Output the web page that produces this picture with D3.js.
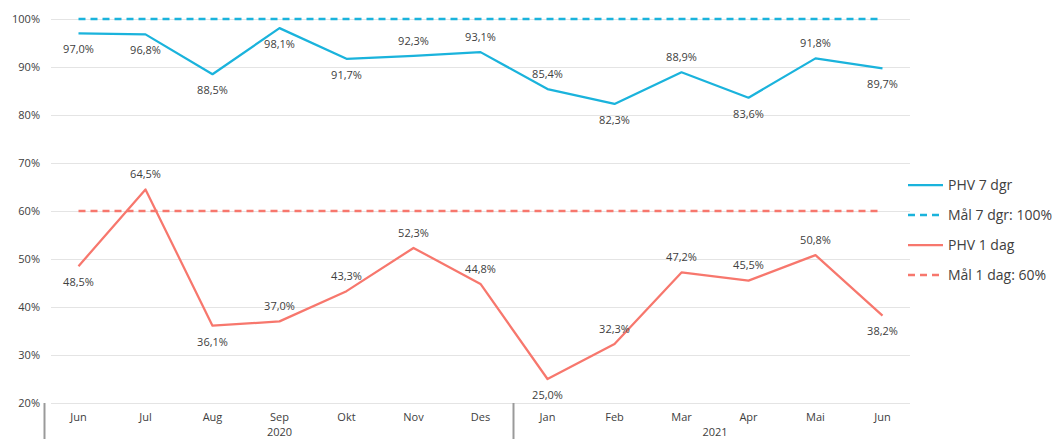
<!DOCTYPE html>
<html>
<head>
<meta charset="utf-8">
<script src="https://cdn.jsdelivr.net/npm/d3@7"></script>
<style>
	body { margin: 0; background: #fff; }
	svg { display: block; font-family: "Open Sans", "Liberation Sans", sans-serif; }
	.grid line { stroke: #e4e4e4; stroke-width: 1; }
	.lbl { font-size: 11px; fill: #404040; }
	.tick { font-size: 11px; fill: #404040; }
	.legend text { font-size: 14px; fill: #404040; }
</style>
</head>
<body>
<div class="chart"></div>
<script>
const months = ["Jun", "Jul", "Aug", "Sep", "Okt", "Nov", "Des", "Jan", "Feb", "Mar", "Apr", "Mai", "Jun"];
const years = [{ label: "2020", from: 0, to: 7 }, { label: "2021", from: 7, to: 13 }];
const phv7 = [97.0, 96.8, 88.5, 98.1, 91.7, 92.3, 93.1, 85.4, 82.3, 88.9, 83.6, 91.8, 89.7];
const phv1 = [48.5, 64.5, 36.1, 37.0, 43.3, 52.3, 44.8, 25.0, 32.3, 47.2, 45.5, 50.8, 38.2];
const goal7 = 100;
const goal1 = 60;
// label position per point: "a" above, "b" below
const pos7 = ["b", "b", "b", "b", "b", "a", "a", "a", "b", "a", "b", "a", "b"];
const pos1 = ["b", "a", "b", "a", "a", "a", "a", "b", "a", "a", "a", "a", "b"];
const yTicks = [20, 30, 40, 50, 60, 70, 80, 90, 100];

const blue = "#1ab3dc";
const red = "#f7776d";

const width = 1055, height = 439;
const svg = d3.select(".chart").append("svg")
	.attr("width", width)
	.attr("height", height);

const x = d3.scaleBand()
	.domain(d3.range(months.length))
	.range([45, 916]);
const y = d3.scaleLinear()
	.domain([20, 100])
	.range([403, 19]);
const cx = (i) => x(i) + x.bandwidth() / 2;
const fmt = (v) => v.toFixed(1).replace(".", ",") + "%";

// gridlines
svg.append("g")
	.attr("class", "grid")
	.selectAll("line")
	.data(yTicks)
	.enter()
	.append("line")
		.attr("x1", 51)
		.attr("x2", 910)
		.attr("y1", (d) => y(d) + 0.5)
		.attr("y2", (d) => y(d) + 0.5);

// y tick labels
svg.append("g")
	.selectAll("text")
	.data(yTicks)
	.enter()
	.append("text")
		.attr("class", "tick")
		.attr("x", 40)
		.attr("y", (d) => y(d))
		.attr("dy", "0.35em")
		.attr("text-anchor", "end")
		.text((d) => d + "%");

// month labels
svg.append("g")
	.selectAll("text")
	.data(months)
	.enter()
	.append("text")
		.attr("class", "tick")
		.attr("x", (d, i) => cx(i))
		.attr("y", 421)
		.attr("text-anchor", "middle")
		.text((d) => d);

// year labels and separators
svg.append("g")
	.selectAll("text")
	.data(years)
	.enter()
	.append("text")
		.attr("class", "tick")
		.attr("x", (d) => (x(d.from) + x(d.to - 1) + x.bandwidth()) / 2)
		.attr("y", 436)
		.attr("text-anchor", "middle")
		.text((d) => d.label);

svg.append("g")
	.selectAll("line")
	.data(years)
	.enter()
	.append("line")
		.attr("x1", (d) => x(d.from) - 0.5)
		.attr("x2", (d) => x(d.from) - 0.5)
		.attr("y1", 403)
		.attr("y2", height)
		.attr("stroke", "#9a9a9a")
		.attr("stroke-width", 2);

// goal lines
const goalLine = (val, color) => {
	svg.append("line")
		.attr("x1", cx(0))
		.attr("x2", cx(months.length - 1))
		.attr("y1", y(val))
		.attr("y2", y(val))
		.attr("stroke", color)
		.attr("stroke-width", 2.5)
		.attr("stroke-dasharray", "7,5");
};
goalLine(goal7, blue);
goalLine(goal1, red);

// series
const line = d3.line()
	.x((d, i) => cx(i))
	.y((d) => y(d));

const drawSeries = (vals, positions, color) => {
	svg.append("path")
		.attr("d", line(vals))
		.attr("fill", "none")
		.attr("stroke", color)
		.attr("stroke-width", 2.25)
		.attr("stroke-linejoin", "round");
	svg.append("g")
		.selectAll("text")
		.data(vals)
		.enter()
		.append("text")
			.attr("class", "lbl")
			.attr("x", (d, i) => cx(i))
			.attr("y", (d, i) => y(d) + (positions[i] === "a" ? -15 : 16))
			.attr("dy", "0.35em")
			.attr("text-anchor", "middle")
			.text(fmt);
};
drawSeries(phv7, pos7, blue);
drawSeries(phv1, pos1, red);

// legend
const legendItems = [
	{ name: "PHV 7 dgr", color: blue, dash: null },
	{ name: "Mål 7 dgr: 100%", color: blue, dash: "7,5" },
	{ name: "PHV 1 dag", color: red, dash: null },
	{ name: "Mål 1 dag: 60%", color: red, dash: "7,5" }
];
const legend = svg.append("g")
	.attr("class", "legend")
	.selectAll("g")
	.data(legendItems)
	.enter()
	.append("g")
		.attr("transform", (d, i) => `translate(908, ${185 + i * 30})`);
legend.append("line")
	.attr("x1", 0)
	.attr("x2", 35)
	.attr("stroke", (d) => d.color)
	.attr("stroke-width", (d) => d.dash ? 2.5 : 2.25)
	.attr("stroke-dasharray", (d) => d.dash);
legend.append("text")
	.attr("x", 40)
	.attr("dy", "0.35em")
	.text((d) => d.name);
</script>
</body>
</html>
